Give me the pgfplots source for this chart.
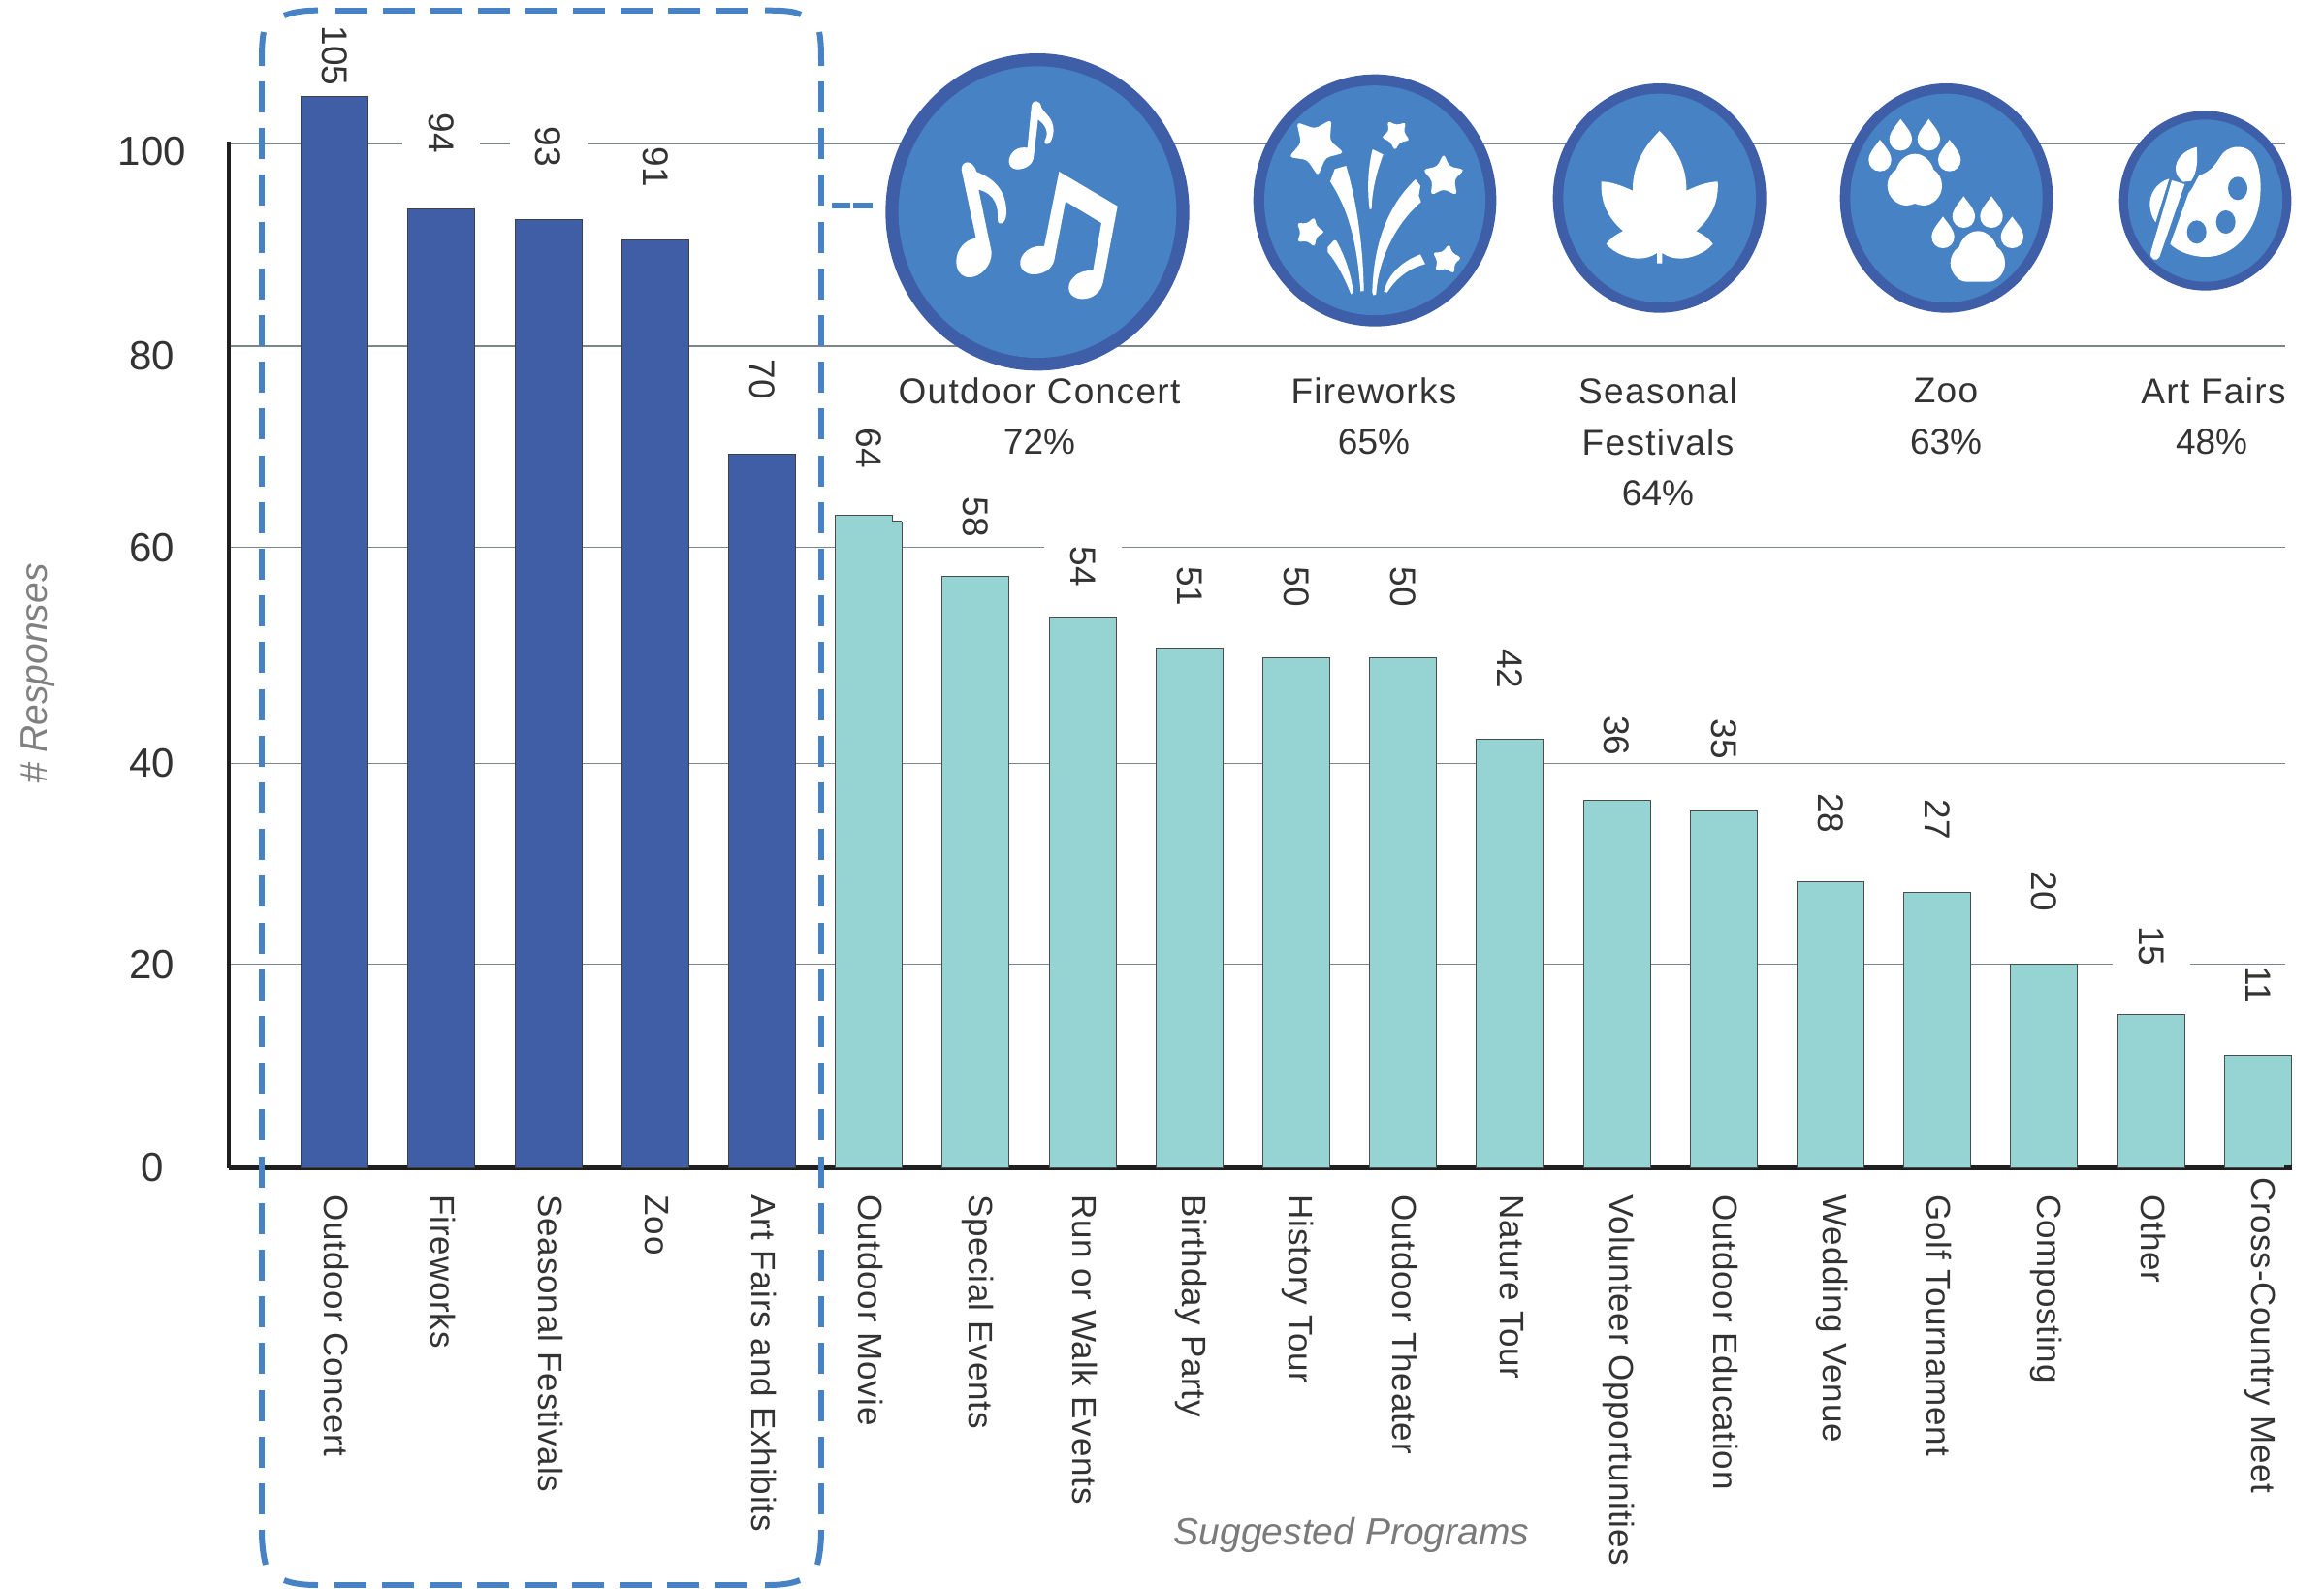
\documentclass[border=0pt]{standalone}
\usepackage{fontspec}
\setmainfont{Liberation Sans}
\usepackage{pgfplots}
\usepackage{pgfplotstable}
\pgfplotsset{compat=1.18}
\definecolor{barblue}{HTML}{3F5EA6}
\definecolor{barteal}{HTML}{96D4D3}
\definecolor{ringblue}{HTML}{3F5EA8}
\definecolor{iconblue}{HTML}{4682C4}
\definecolor{gridgray}{HTML}{7B868B}
\definecolor{txt}{HTML}{333333}
\pgfplotstableread{
x y gap
0 105 9
1 94 55
2 93 52
3 91 52
4 70 54
}\blueT
\pgfplotstableread{
x y gap
5 64 46
6 58 38
7 54 29
8 51 40
9 50 50
10 50 50
11 42 50
12 36 44
13 35 51
14 28 48
15 27 52
16 20 52
17 15 48
18 11 51
}\tealT
\newcommand{\disc}[6]{\fill[ringblue] (#1,#2) ellipse [x radius=#3,y radius=#4];\fill[iconblue] (#1,#2) ellipse [x radius=#5,y radius=#6];}
\newcommand{\ls}[1]{{\addfontfeature{LetterSpace=3.6}#1}}
\pgfplotsset{lbl/.style={
  point meta=explicit symbolic,
  visualization depends on=y \as \yval,
  nodes near coords={\pgfmathprintnumber[fixed,precision=0]{\yval}},
  every node near coord/.append style={yshift=\pgfplotspointmeta*0.5pt,rotate=-90,anchor=east,fill=white,inner xsep=1pt,inner ysep=13.5pt,font=\fontsize{18.5}{20}\selectfont,text=txt},
}}
\begin{document}
\begin{tikzpicture}
\path[use as bounding box] (0,0) rectangle (1198.5pt,-819pt);
\begin{axis}[
  at={(118pt,-602.25pt)},anchor=south west,scale only axis,
  width=1060.5pt,height=529.25pt,
  xmin=-0.9909,xmax=18.256,ymin=0,ymax=100.62,
  clip=false,
  /pgf/number format/assume math mode=true,
  axis lines=left,
  axis line style={-},
  x axis line style={line width=2.75pt,color=black!88},
  y axis line style={line width=1.6pt,color=black!88},
  major tick length=0pt,
  ymajorgrids,
  grid style={color=gridgray,line width=0.8pt},
  ytick={0,19.96,39.65,60.83,80.56,100.43},
  yticklabels={0,20,40,60,\raisebox{-4.5pt}[15pt][0pt]{80},\raisebox{-3.5pt}[15pt][0pt]{100}},
  yticklabel style={anchor=center,xshift=-39.5pt,font=\fontsize{21}{22}\selectfont,text=txt},
  xtick={0,...,18},
  xticklabels={Outdoor Concert,Fireworks,Seasonal Festivals,Zoo,Art Fairs and Exhibits,Outdoor Movie,Special Events,Run or Walk Events,Birthday Party,History Tour,Outdoor Theater,Nature Tour,Volunteer Opportunities,Outdoor Education,Wedding Venue,Golf Tournament,Composting,Other,\hspace*{-9pt}Cross-Country Meet},
  xticklabel style={yshift=-10.5pt,xshift=1pt,rotate=-90,anchor=west,font=\fontsize{17.5}{19}\selectfont\addfontfeature{LetterSpace=2.3},text=txt},
  xlabel={\textit{Suggested Programs}},
  xlabel style={at={(axis description cs:0.546,-0.3577)},anchor=center,font=\fontsize{19.5}{21}\selectfont,text=black!52},
  ylabel={\textit{\# Responses}},
  ylabel style={at={(axis description cs:-0.0926,0.4813)},anchor=center,rotate=0,font=\fontsize{19.5}{21}\selectfont,text=black!50},
]
\addplot[ybar,bar width=34.5pt,bar shift=0pt,fill=barblue,draw=black!75,line width=0.5pt,lbl] table[x=x,y=y,meta=gap] {\blueT};
\addplot[ybar,bar width=34.5pt,bar shift=0pt,fill=barteal,draw=black!70,line width=0.5pt,lbl] table[x=x,y=y,meta=gap] {\tealT};
\end{axis}
% all below: scope in reference pixels
\begin{scope}[x=0.5pt,y=-0.5pt,color=iconblue,line width=3pt]
 \draw[black!88,line width=2.75pt] (2356,1204.5) -- (2364,1204.5);
 \draw[dash pattern=on 16.5pt off 8pt] (346,10.7) -- (772,10.7);
 \draw[dash pattern=on 16.5pt off 8pt] (345.4,1635) -- (772,1635);
 \draw[dash pattern=on 16pt off 8.1pt] (270,84) -- (270,1562);
 \draw[dash pattern=on 16pt off 8.1pt] (847,84) -- (847,1562);
 \draw (293,16) .. controls (303,12) and (315,10.7) .. (328,10.7);
 \draw (272,33) .. controls (270,42) and (270,55) .. (270,68);
 \draw (789,10.7) .. controls (805,10.7) and (818,11) .. (826,15);
 \draw (845,33) .. controls (847,42) and (847,55) .. (847,68);
 \draw (270,1578) .. controls (270,1590) and (271,1603) .. (274,1614);
 \draw (293,1630) .. controls (303,1634) and (315,1635) .. (328,1635);
 \draw (847,1578) .. controls (847,1590) and (846,1603) .. (843,1614);
 \draw (789,1635) .. controls (805,1635) and (815,1634) .. (825,1630);
 \draw (858,212) -- (877,212);
 \draw (880,212) -- (900,212);
 % notch of the 64 bar
 \fill[white] (920.5,529) rectangle (933,537.5);
 \draw[black!70,line width=0.5pt] (920.5,531) -- (920.5,537.5) -- (930,537.5);
 % upper labels
 \begin{scope}[text=txt,font=\fontsize{18.5}{20}\selectfont]
 \node at (1072,403) {\ls{Outdoor Concert}};
 \node at (1072,456) {72\%};
 \node at (1417,403) {\ls{Fireworks}};
 \node at (1417,456) {65\%};
 \node at (1710,403) {\ls{Seasonal}};
 \node at (1710,456) {\ls{Festivals}};
 \node at (1710,509) {64\%};
 \node at (2007,403) {\ls{Zoo}};
 \node at (2007,456) {63\%};
 \node at (2283,403) {\ls{Art Fairs}};
 \node at (2281,456) {48\%};
 \end{scope}
\end{scope}
% concert icon, in 3x crop pixels with origin (900,40)
\begin{scope}[shift={(450pt,-20pt)},x=0.16667pt,y=-0.16667pt]
\disc{510}{536}{470}{491}{430}{451}
\fill[white] (492,205) .. controls (495,188) and (520,188) .. (522,212) .. controls (535,235) and (560,245) .. (560,285) .. controls (558,305) and (552,325) .. (540,326) .. controls (530,325) and (531,318) .. (535,310) .. controls (545,290) and (535,265) .. (512,250) -- (498,370) .. controls (492,395) and (465,405) .. (445,404) .. controls (415,400) and (415,365) .. (440,345) .. controls (452,336) and (465,336) .. (479,337) -- cycle;
\fill[white] (275,405) .. controls (275,375) and (310,372) .. (322,412) .. controls (370,430) and (415,465) .. (414,540) .. controls (412,575) and (390,580) .. (387,562) .. controls (390,520) and (380,480) .. (328,467) -- (368,660) .. controls (370,700) and (335,738) .. (300,738) .. controls (255,738) and (250,680) .. (270,650) .. controls (285,628) and (300,620) .. (320,617) -- cycle;
\fill[white] (577,411) -- (758,518) -- (714,750) .. controls (708,785) and (680,805) .. (650,805) .. controls (605,805) and (595,765) .. (620,740) .. controls (635,722) and (660,715) .. (682,717) -- (708,570) -- (597,503) -- (562,685) .. controls (555,715) and (525,730) .. (495,729) .. controls (450,725) and (445,680) .. (478,655) .. controls (495,642) and (515,640) .. (531,642) -- cycle;
\end{scope}
% fireworks
\begin{scope}[shift={(640pt,-35pt)},x=0.16667pt,y=-0.16667pt]
\disc{414}{410}{376}{390}{342}{355.5}
\fill[white,rounded corners=2pt] (172,168) -- (228,188) -- (280,160) -- (275,225) -- (319,263) -- (262,278) -- (238,335) -- (205,285) -- (148,276) -- (186,232) -- cycle;
\fill[white,rounded corners=2pt] (452,163) -- (482,178) -- (511,167) -- (503,199) -- (524,225) -- (492,229) -- (476,258) -- (462,228) -- (432,215) -- (458,197) -- cycle;
\fill[white,rounded corners=2pt] (627,265) -- (645,305) -- (692,315) -- (660,345) -- (668,395) -- (627,375) -- (587,395) -- (592,350) -- (562,315) -- (607,305) -- cycle;
\fill[white,rounded corners=2pt] (228,460) -- (233,490) -- (261,508) -- (233,522) -- (228,556) -- (205,535) -- (173,540) -- (185,510) -- (172,478) -- (203,483) -- cycle;
\fill[white,rounded corners=2pt] (645,543) -- (652,572) -- (684,588) -- (660,605) -- (660,638) -- (632,620) -- (600,630) -- (608,598) -- (592,570) -- (622,572) -- cycle;
\fill[white] (290,313) -- (325,303) .. controls (360,420) and (378,560) .. (380,690) -- (370,692) .. controls (360,560) and (340,450) .. (276,352) -- cycle;
\fill[white] (407,252) -- (440,268) .. controls (420,320) and (405,380) .. (404,436) -- (398,438) .. controls (390,380) and (392,310) .. (407,252) -- cycle;
\fill[white] (540,345) -- (555,365) -- (550,395) -- (557,415) .. controls (480,480) and (425,590) .. (418,700) -- (410,704) -- (406,695) .. controls (410,550) and (450,430) .. (540,345) -- cycle;
\fill[white] (288,533) -- (295,535) .. controls (325,590) and (340,640) .. (348,695) -- (340,700) .. controls (320,650) and (295,600) .. (268,570) -- (268,555) -- cycle;
\fill[white] (555,577) -- (570,607) .. controls (520,620) and (480,650) .. (452,695) -- (442,692) .. controls (455,640) and (495,600) .. (555,577) -- cycle;
\end{scope}
% leaf
\begin{scope}[shift={(795pt,-40pt)},x=0.16667pt,y=-0.16667pt]
\disc{365}{373}{330}{355}{298}{323}
\fill[white] (365,165) .. controls (410,210) and (450,270) .. (448,350) .. controls (480,335) and (515,322) .. (545,322) .. controls (548,380) and (530,430) .. (478,475) .. controls (500,485) and (520,500) .. (530,515) .. controls (505,545) and (460,560) .. (430,560) .. controls (410,560) and (390,555) .. (373,543) -- (373,575) -- (357,575) -- (357,543) .. controls (340,555) and (320,560) .. (300,560) .. controls (270,560) and (225,545) .. (200,515) .. controls (210,500) and (230,485) .. (252,475) .. controls (200,430) and (182,380) .. (185,322) .. controls (215,322) and (250,335) .. (282,350) .. controls (280,270) and (320,210) .. (365,165) -- cycle;
\end{scope}
% paws
\begin{scope}[shift={(942.5pt,-40pt)},x=0.16667pt,y=-0.16667pt]
\disc{367.5}{373}{329.5}{355}{297.5}{323}
\foreach \dx/\dy in {162/192,226/128,313/128,377/192,357/430,421/367,507/367,571/430}{
\fill[white,shift={(\dx,\dy)}] (0,0) .. controls (12,18) and (35,40) .. (35,63) .. controls (35,83) and (20,98) .. (0,98) .. controls (-20,98) and (-35,83) .. (-35,63) .. controls (-35,40) and (-12,18) .. (0,0) -- cycle;}
\fill[white] (270,236) .. controls (300,236) and (322,262) .. (328,285) .. controls (345,295) and (354,315) .. (354,335) .. controls (354,370) and (325,396) .. (295,396) .. controls (285,396) and (278,392) .. (270,390) .. controls (262,392) and (255,396) .. (245,396) .. controls (215,396) and (185,370) .. (185,335) .. controls (185,315) and (195,295) .. (212,285) .. controls (218,262) and (240,236) .. (270,236) -- cycle;
\fill[white] (465,475) .. controls (495,475) and (517,501) .. (523,524) .. controls (540,534) and (549,554) .. (549,574) .. controls (549,605) and (525,632) .. (500,632) -- (430,632) .. controls (405,632) and (380,605) .. (380,574) .. controls (380,554) and (390,534) .. (407,524) .. controls (413,501) and (435,475) .. (465,475) -- cycle;
\end{scope}
% palette
\begin{scope}[shift={(1087.5pt,-52.5pt)},x=0.16667pt,y=-0.16667pt]
\disc{298.5}{306}{266.5}{278}{239}{251}
\fill[white] (280,228) .. controls (320,215) and (335,185) .. (345,170) .. controls (365,135) and (415,130) .. (440,155) .. controls (470,190) and (475,260) .. (465,320) .. controls (450,400) and (390,480) .. (300,480) .. controls (260,480) and (215,465) .. (190,440) -- (247,282) .. controls (260,270) and (270,240) .. (280,228) -- cycle;
\fill[iconblue] (399,268) ellipse [x radius=30,y radius=36];
\fill[iconblue] (362,372) ellipse [x radius=30,y radius=36];
\fill[iconblue] (272,403) ellipse [x radius=30,y radius=36];
\fill[white] (195,243) -- (235,255) -- (157,480) .. controls (150,495) and (125,490) .. (130,465) -- cycle;
\fill[white] (272,140) .. controls (230,150) and (205,180) .. (207,210) .. controls (208,225) and (215,235) .. (230,248) -- (255,245) .. controls (275,215) and (275,180) .. (272,140) -- cycle;
\fill[white] (187,238) .. controls (145,250) and (125,290) .. (127,320) .. controls (128,340) and (135,360) .. (145,373) -- cycle;
\end{scope}
\end{tikzpicture}
\end{document}
